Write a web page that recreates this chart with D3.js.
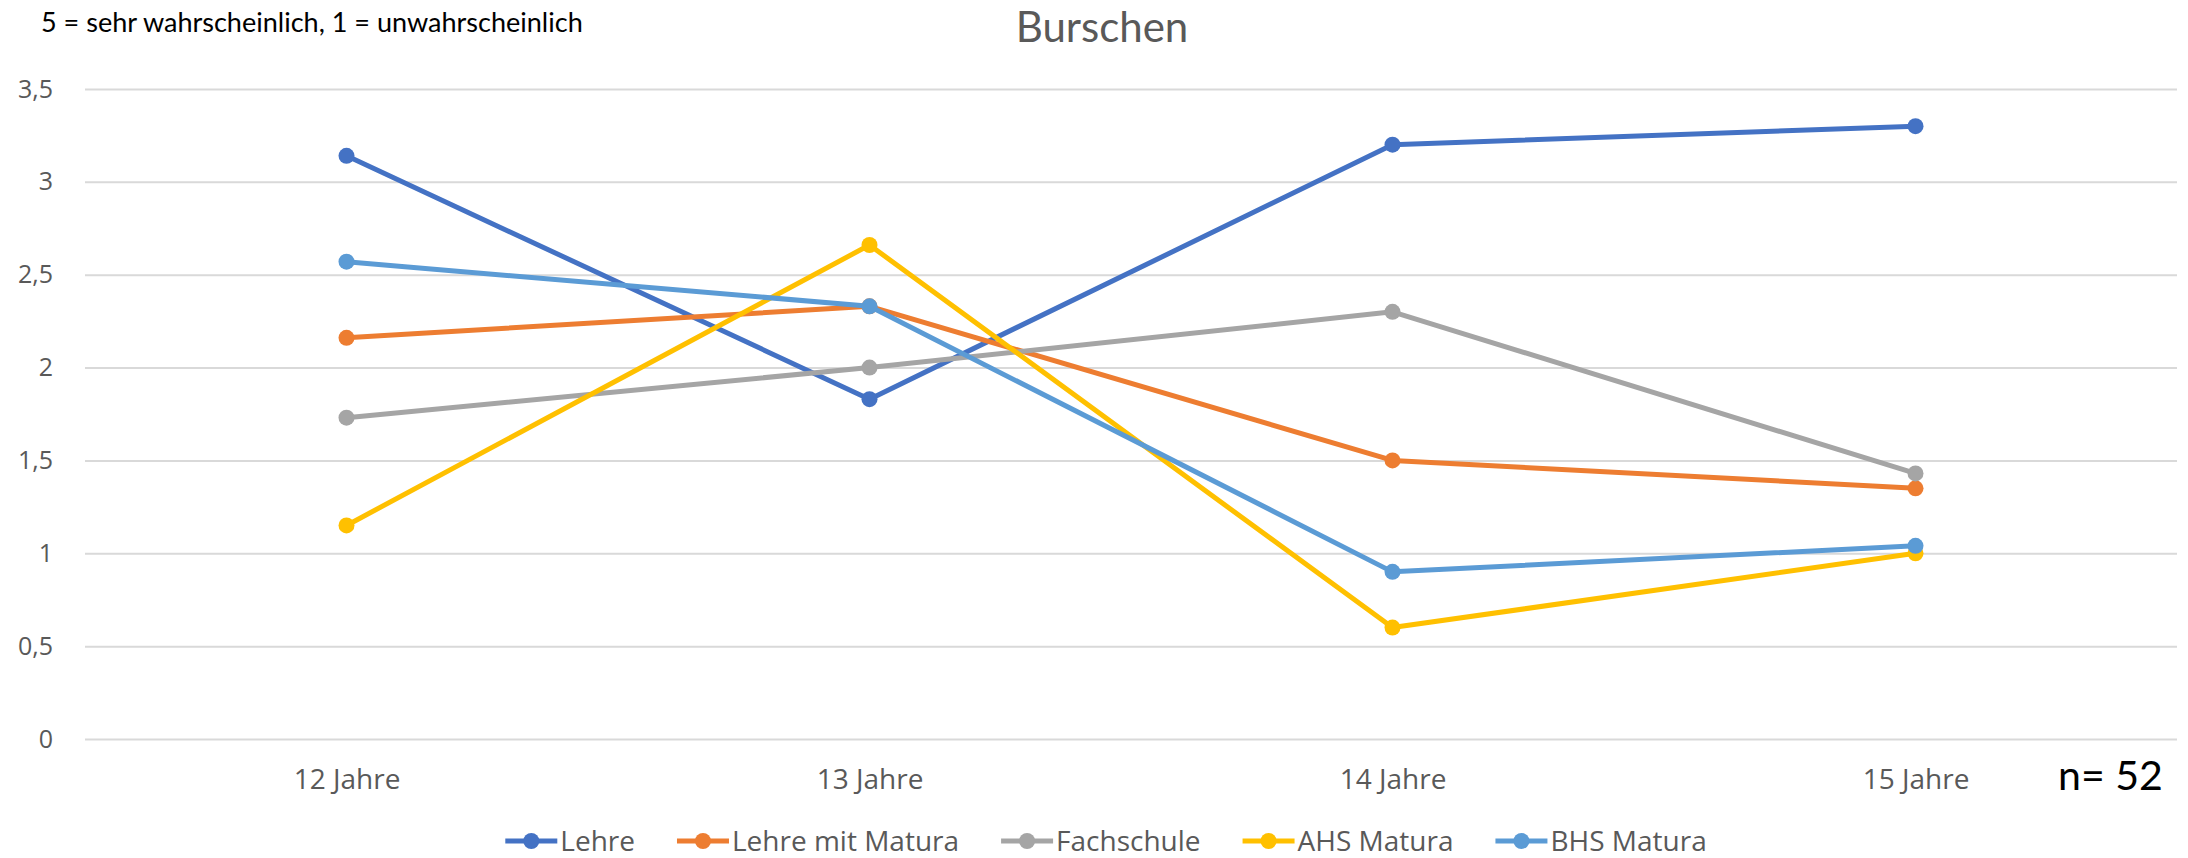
<!DOCTYPE html>
<html>
<head>
<meta charset="utf-8">
<script src="https://cdn.jsdelivr.net/npm/d3@7"></script>
<style>
    body { margin: 0; background: #fff; }
    svg { display: block; }
</style>
</head>
<body>
<div id="chart-area"></div>
<script>
// data
const categories = ["12 Jahre", "13 Jahre", "14 Jahre", "15 Jahre"]
const seriesNames = ["Lehre", "Lehre mit Matura", "Fachschule", "AHS Matura", "BHS Matura"]
const lehre = [3.14, 1.83, 3.2, 3.3]
const lehreMitMatura = [2.16, 2.33, 1.5, 1.35]
const fachschule = [1.73, 2.0, 2.3, 1.43]
const ahsMatura = [1.15, 2.66, 0.6, 1.0]
const bhsMatura = [2.57, 2.33, 0.9, 1.04]
const yTicks = [0, 0.5, 1, 1.5, 2, 2.5, 3, 3.5]
const colors = ["#4472C4", "#ED7D31", "#A5A5A5", "#FFC000", "#5B9BD5"]

function drawChart() {
    const svgWidth = 2188
    const svgHeight = 858
    const margin = { left: 85, right: 11, top: 89, bottom: 119 }
    const chartWidth = svgWidth - margin.left - margin.right
    const chartHeight = svgHeight - margin.top - margin.bottom

    const allSeries = [lehre, lehreMitMatura, fachschule, ahsMatura, bhsMatura]
    const dataset = seriesNames.map((name, i) => ({
        name: name,
        color: colors[i],
        values: categories.map((c, j) => ({ cat: c, v: allSeries[i][j] }))
    }))

    const xScale = d3.scalePoint()
        .domain(categories)
        .range([0, chartWidth])
        .padding(0.5)

    const yScale = d3.scaleLinear()
        .domain([0, 3.5])
        .range([chartHeight, 0])

    const svg = d3.select("#chart-area")
        .append("svg")
        .attr("width", svgWidth)
        .attr("height", svgHeight)

    const chart = svg.append("g")
        .attr("transform", `translate(${margin.left},${margin.top})`)

    // gridlines + y labels
    const yAxis = chart.append("g")
        .call(d3.axisLeft(yScale)
            .tickValues(yTicks)
            .tickSize(-chartWidth)
            .tickPadding(32)
            .tickFormat(d => String(d).replace(".", ",")))
    yAxis.select(".domain").remove()
    yAxis.selectAll(".tick line")
        .attr("stroke", "#d9d9d9")
        .attr("stroke-width", 2)
    yAxis.selectAll(".tick text")
        .attr("fill", "#595959")
        .style("font-family", "'Open Sans'")
        .style("font-size", "25px")

    // x labels
    const xAxis = chart.append("g")
        .attr("transform", `translate(0,${chartHeight})`)
        .call(d3.axisBottom(xScale).tickSize(0).tickPadding(30))
    xAxis.select(".domain").remove()
    xAxis.selectAll(".tick text")
        .attr("fill", "#595959")
        .style("font-family", "'Open Sans'")
        .style("font-size", "28px")

    const lineGenerator = d3.line()
        .x(d => xScale(d.cat))
        .y(d => yScale(d.v))

    const series = chart.selectAll(".series")
        .data(dataset)
        .join("g")
        .attr("class", "series")

    series.append("path")
        .attr("d", d => lineGenerator(d.values))
        .attr("fill", "none")
        .attr("stroke", d => d.color)
        .attr("stroke-width", 5)
        .attr("stroke-linejoin", "round")

    series.selectAll("circle")
        .data(d => d.values.map(v => ({ ...v, color: d.color })))
        .join("circle")
        .attr("cx", d => xScale(d.cat))
        .attr("cy", d => yScale(d.v))
        .attr("r", 8)
        .attr("fill", d => d.color)

    // fit a text to a given width
    function fitText(sel, width) {
        const w = sel.node().getComputedTextLength()
        const size = parseFloat(sel.style("font-size"))
        sel.style("font-size", (size * width / w) + "px")
    }

    svg.append("text")
        .attr("x", 1102)
        .attr("y", 42)
        .attr("text-anchor", "middle")
        .attr("fill", "#595959")
        .style("font-family", "Lato")
        .style("font-size", "42px")
        .text("Burschen")

    const note = svg.append("text")
        .attr("x", 41)
        .attr("y", 32)
        .attr("fill", "#000")
        .style("font-family", "Lato")
        .style("font-size", "26px")
        .text("5 = sehr wahrscheinlich, 1 = unwahrscheinlich")
    fitText(note, 542)

    const nText = svg.append("text")
        .attr("x", 2058)
        .attr("y", 790)
        .attr("fill", "#000")
        .style("font-family", "Lato")
        .style("font-size", "40px")
        .text("n= 52")
    fitText(nText, 105)

    // legend
    const legend = svg.append("g")
    const markerW = 52
    let xPos = 0
    dataset.forEach((d, i) => {
        const item = legend.append("g").attr("transform", `translate(${xPos},0)`)
        item.append("line")
            .attr("x1", 0).attr("x2", markerW)
            .attr("y1", 0).attr("y2", 0)
            .attr("stroke", d.color)
            .attr("stroke-width", 5)
        item.append("circle")
            .attr("cx", markerW / 2).attr("cy", 0)
            .attr("r", 8)
            .attr("fill", d.color)
        const t = item.append("text")
            .attr("x", markerW + 3)
            .attr("y", 10)
            .attr("fill", "#595959")
            .style("font-family", "'Open Sans'")
            .style("font-size", "28px")
            .text(d.name)
        xPos += markerW + 3 + t.node().getComputedTextLength() + 42
    })
    const legendWidth = xPos - 42
    legend.attr("transform", `translate(${1106 - legendWidth / 2},841)`)
}

drawChart()
</script>
</body>
</html>
